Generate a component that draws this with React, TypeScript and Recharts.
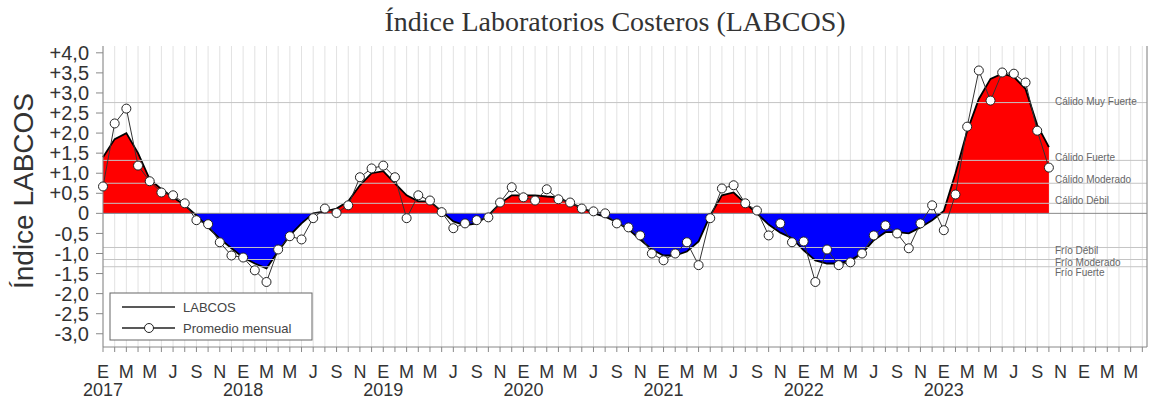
import { Area, CartesianGrid, ComposedChart, Line, ReferenceLine, XAxis, YAxis } from 'recharts';

// meses: indice 0 = enero 2017
const monthLetters = ['E', 'F', 'M', 'A', 'M', 'J', 'J', 'A', 'S', 'O', 'N', 'D'];
const yearLabels = ['2017', '2018', '2019', '2020', '2021', '2022', '2023'];

// LABCOS (media corrida), ene 2017 - oct 2023
const labcos = [
  1.4, 1.85, 2.0, 1.5, 0.85, 0.6, 0.4, 0.2, -0.05, -0.35, -0.63, -0.87,
  -1.1, -1.25, -1.37, -0.95, -0.55, -0.25, 0.0, 0.05, 0.12, 0.3, 0.7, 1.0,
  1.05, 0.75, 0.45, 0.3, 0.3, 0.05, -0.2, -0.3, -0.25, -0.05, 0.25, 0.45,
  0.45, 0.45, 0.42, 0.4, 0.25, 0.15, 0.0, -0.08, -0.22, -0.4, -0.65, -0.9,
  -1.05, -1.05, -0.95, -0.7, -0.05, 0.45, 0.52, 0.25, 0.0, -0.28, -0.48, -0.62,
  -0.92, -1.17, -1.25, -1.25, -1.17, -1.0, -0.67, -0.47, -0.47, -0.5, -0.35, -0.17,
  0.06, 1.0, 2.05, 2.85, 3.35, 3.48, 3.4, 3.1, 2.2, 1.65,
];

// promedio mensual
const promedio = [
  0.67, 2.24, 2.61, 1.19, 0.8, 0.52, 0.45, 0.25, -0.17, -0.27, -0.72, -1.05,
  -1.1, -1.42, -1.71, -0.9, -0.57, -0.65, -0.12, 0.12, 0.01, 0.2, 0.9, 1.12,
  1.19, 0.9, -0.12, 0.45, 0.32, 0.03, -0.37, -0.25, -0.17, -0.1, 0.27, 0.65,
  0.4, 0.32, 0.6, 0.35, 0.27, 0.12, 0.05, 0.0, -0.25, -0.35, -0.55, -1.0,
  -1.17, -1.0, -0.72, -1.29, -0.12, 0.62, 0.7, 0.25, 0.07, -0.55, -0.25, -0.72,
  -0.7, -1.71, -0.9, -1.29, -1.22, -1.0, -0.55, -0.3, -0.5, -0.87, -0.25, 0.2,
  -0.42, 0.47, 2.16, 3.56, 2.81, 3.51, 3.48, 3.26, 2.06, 1.14,
];

const thresholdNames = ['Cálido Muy Fuerte', 'Cálido Fuerte', 'Cálido Moderado', 'Cálido Débil', 'Frío Débil', 'Frío Moderado', 'Frío Fuerte'];
const thresholdValues = [2.76, 1.32, 0.75, 0.25, -0.85, -1.15, -1.33];

const yTicks = [4, 3.5, 3, 2.5, 2, 1.5, 1, 0.5, 0, -0.5, -1, -1.5, -2, -2.5, -3];
const monthTicks = Array.from({ length: 90 }, (_, i) => i);

const data = labcos.map((v, i) => ({ m: i, labcos: v, promedio: promedio[i] }));

const maxV = Math.max(...labcos);
const minV = Math.min(...labcos);
const zeroOffset = maxV / (maxV - minV);

const FONT = 'Liberation Sans, Arial, sans-serif';

function MonthTick({ x, y, payload }: any) {
  const m = payload.value;
  if (m % 2 !== 0) return <g />;
  const year = m % 12 === 0 ? yearLabels[m / 12] : undefined;
  return (
    <g>
      <text x={x} y={y + 24} textAnchor="middle" fontSize={18} fill="#333" fontFamily={FONT}>
        {monthLetters[m % 12]}
      </text>
      {year && (
        <text x={x} y={y + 42} textAnchor="middle" fontSize={18} fill="#333" fontFamily={FONT}>
          {year}
        </text>
      )}
    </g>
  );
}

function fmtY(v: number) {
  if (v === 0) return '0';
  const s = Math.abs(v).toFixed(1).replace('.', ',');
  return v > 0 ? '+' + s : '-' + s;
}

function ThresholdLabel({ viewBox, value, dy }: any) {
  const { x, y, width } = viewBox;
  return (
    <text x={x + width - 92} y={y + dy} fontSize={10} fill="#666" fontFamily={FONT}>
      {value}
    </text>
  );
}

const labelDy = [2, 1, 0, 1, 7, 6, 9];

export default function App() {
  return (
    <div style={{ position: 'absolute', left: 0, top: 0, width: 1151, height: 404, background: '#fff' }}>
      <ComposedChart width={1151} height={404} data={data} margin={{ top: 46, right: 0, bottom: 0, left: 0 }}>
        <defs>
          <linearGradient id="labcosFill" x1="0" y1="0" x2="0" y2="1">
            <stop offset={zeroOffset} stopColor="#ff0000" />
            <stop offset={zeroOffset} stopColor="#0000ff" />
          </linearGradient>
        </defs>
        <CartesianGrid vertical horizontal={false} stroke="#e2e2e2" />
        <XAxis
          dataKey="m"
          type="number"
          domain={[0, 89.4]}
          ticks={monthTicks}
          interval={0}
          height={57}
          tickSize={5}
          stroke="#888"
          tick={<MonthTick />}
        />
        <XAxis xAxisId="top" orientation="top" dataKey="m" type="number" domain={[0, 89.4]} height={0} tick={false} tickLine={false} stroke="#888" />
        <YAxis
          type="number"
          domain={[-3.33, 4.17]}
          ticks={yTicks}
          interval={0}
          width={103}
          tickSize={7}
          tickMargin={7}
          stroke="#888"
          tickFormatter={fmtY}
          tick={{ fontSize: 20, fill: '#333', fontFamily: FONT }}
        />
        <YAxis yAxisId="right" orientation="right" type="number" domain={[-3.33, 4.17]} ticks={yTicks} width={4} tickSize={3} stroke="#888" tickFormatter={() => ''} />
        <Area
          dataKey="labcos"
          type="linear"
          baseValue={0}
          stroke="#000"
          strokeWidth={1.8}
          fill="url(#labcosFill)"
          fillOpacity={1}
          dot={false}
          activeDot={false}
          isAnimationActive={false}
        />
        {thresholdValues.map((v, i) => (
          <ReferenceLine
            key={thresholdNames[i]}
            y={v}
            stroke="#c4c4c4"
            strokeWidth={1}
            label={<ThresholdLabel value={thresholdNames[i]} dy={labelDy[i]} />}
          />
        ))}
        <ReferenceLine y={0} stroke="#888" strokeWidth={1} />
        <Line
          dataKey="promedio"
          type="linear"
          stroke="#333"
          strokeWidth={1}
          dot={{ r: 4.5, fill: '#fff', stroke: '#222', strokeWidth: 1 }}
          activeDot={false}
          isAnimationActive={false}
        />
      </ComposedChart>
      <svg width={1151} height={404} style={{ position: 'absolute', left: 0, top: 0, pointerEvents: 'none' }}>
        <text x={615} y={31} textAnchor="middle" fontSize={28} fill="#333" fontFamily="Liberation Serif, Times New Roman, serif">
          Índice Laboratorios Costeros (LABCOS)
        </text>
        <text transform="translate(33,191) rotate(-90)" textAnchor="middle" fontSize={28} fill="#333" fontFamily={FONT}>
          Índice LABCOS
        </text>
        <rect x={110} y={293} width={202} height={47} fill="#fff" stroke="#666" />
        <line x1={122} x2={175} y1={307} y2={307} stroke="#222" strokeWidth={1.3} />
        <text x={183} y={312} fontSize={13} fill="#444" fontFamily={FONT}>LABCOS</text>
        <line x1={122} x2={175} y1={328} y2={328} stroke="#222" strokeWidth={1.3} />
        <circle cx={149} cy={328} r={4.5} fill="#fff" stroke="#222" />
        <text x={183} y={333} fontSize={13} fill="#444" fontFamily={FONT}>Promedio mensual</text>
      </svg>
    </div>
  );
}
